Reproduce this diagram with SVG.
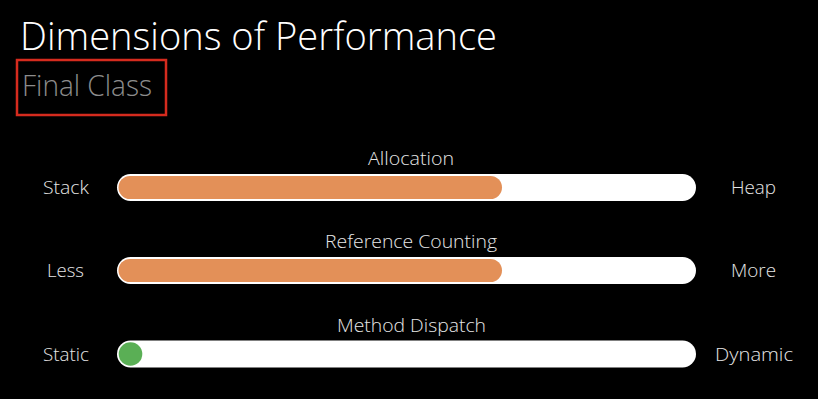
<svg xmlns="http://www.w3.org/2000/svg" width="818" height="399" viewBox="0 0 818 399">
<style>
.t{font-family:"Open Sans","Liberation Sans",sans-serif;font-weight:300;fill:#e6e6e6;font-size:18.5px}
.track{fill:#ffffff}
.fill{fill:#e39058}
</style>
<rect width="818" height="399" fill="#000"/>
<g id="title">
<text x="20" y="50" font-family="Open Sans, Liberation Sans, sans-serif" font-weight="300" font-size="39" fill="#ffffff" textLength="477" lengthAdjust="spacingAndGlyphs">Dimensions of Performance</text>
</g>
<g id="subtitle">
<text x="22" y="96" font-family="Open Sans, Liberation Sans, sans-serif" font-weight="300" font-size="30" fill="#8c8c8c" textLength="130" lengthAdjust="spacingAndGlyphs">Final Class</text>
<rect x="17" y="60" width="149" height="55" fill="none" stroke="#d52b1e" stroke-width="2.5"/>
</g>
<g id="allocation">
<text class="t" x="368" y="165" textLength="86" lengthAdjust="spacingAndGlyphs">Allocation</text>
<text class="t" x="43" y="194" textLength="46" lengthAdjust="spacingAndGlyphs">Stack</text>
<text class="t" x="731" y="194" textLength="45" lengthAdjust="spacingAndGlyphs">Heap</text>
<rect class="track" x="117" y="174" width="579" height="27" rx="13.5"/>
<rect class="fill" x="118.5" y="176" width="383.5" height="23" rx="11.5"/>
</g>
<g id="refcount">
<text class="t" x="325" y="248" textLength="172" lengthAdjust="spacingAndGlyphs">Reference Counting</text>
<text class="t" x="47" y="277" textLength="37" lengthAdjust="spacingAndGlyphs">Less</text>
<text class="t" x="731" y="277" textLength="45" lengthAdjust="spacingAndGlyphs">More</text>
<rect class="track" x="117" y="257" width="579" height="27" rx="13.5"/>
<rect class="fill" x="118.5" y="259" width="383.5" height="23" rx="11.5"/>
</g>
<g id="dispatch">
<text class="t" x="337" y="332" textLength="149" lengthAdjust="spacingAndGlyphs">Method Dispatch</text>
<text class="t" x="43" y="361" textLength="46" lengthAdjust="spacingAndGlyphs">Static</text>
<text class="t" x="715" y="361" textLength="78" lengthAdjust="spacingAndGlyphs">Dynamic</text>
<rect class="track" x="117" y="340.5" width="579" height="27" rx="13.5"/>
<circle cx="130.5" cy="354" r="11.8" fill="#5aaf55"/>
</g>
</svg>
